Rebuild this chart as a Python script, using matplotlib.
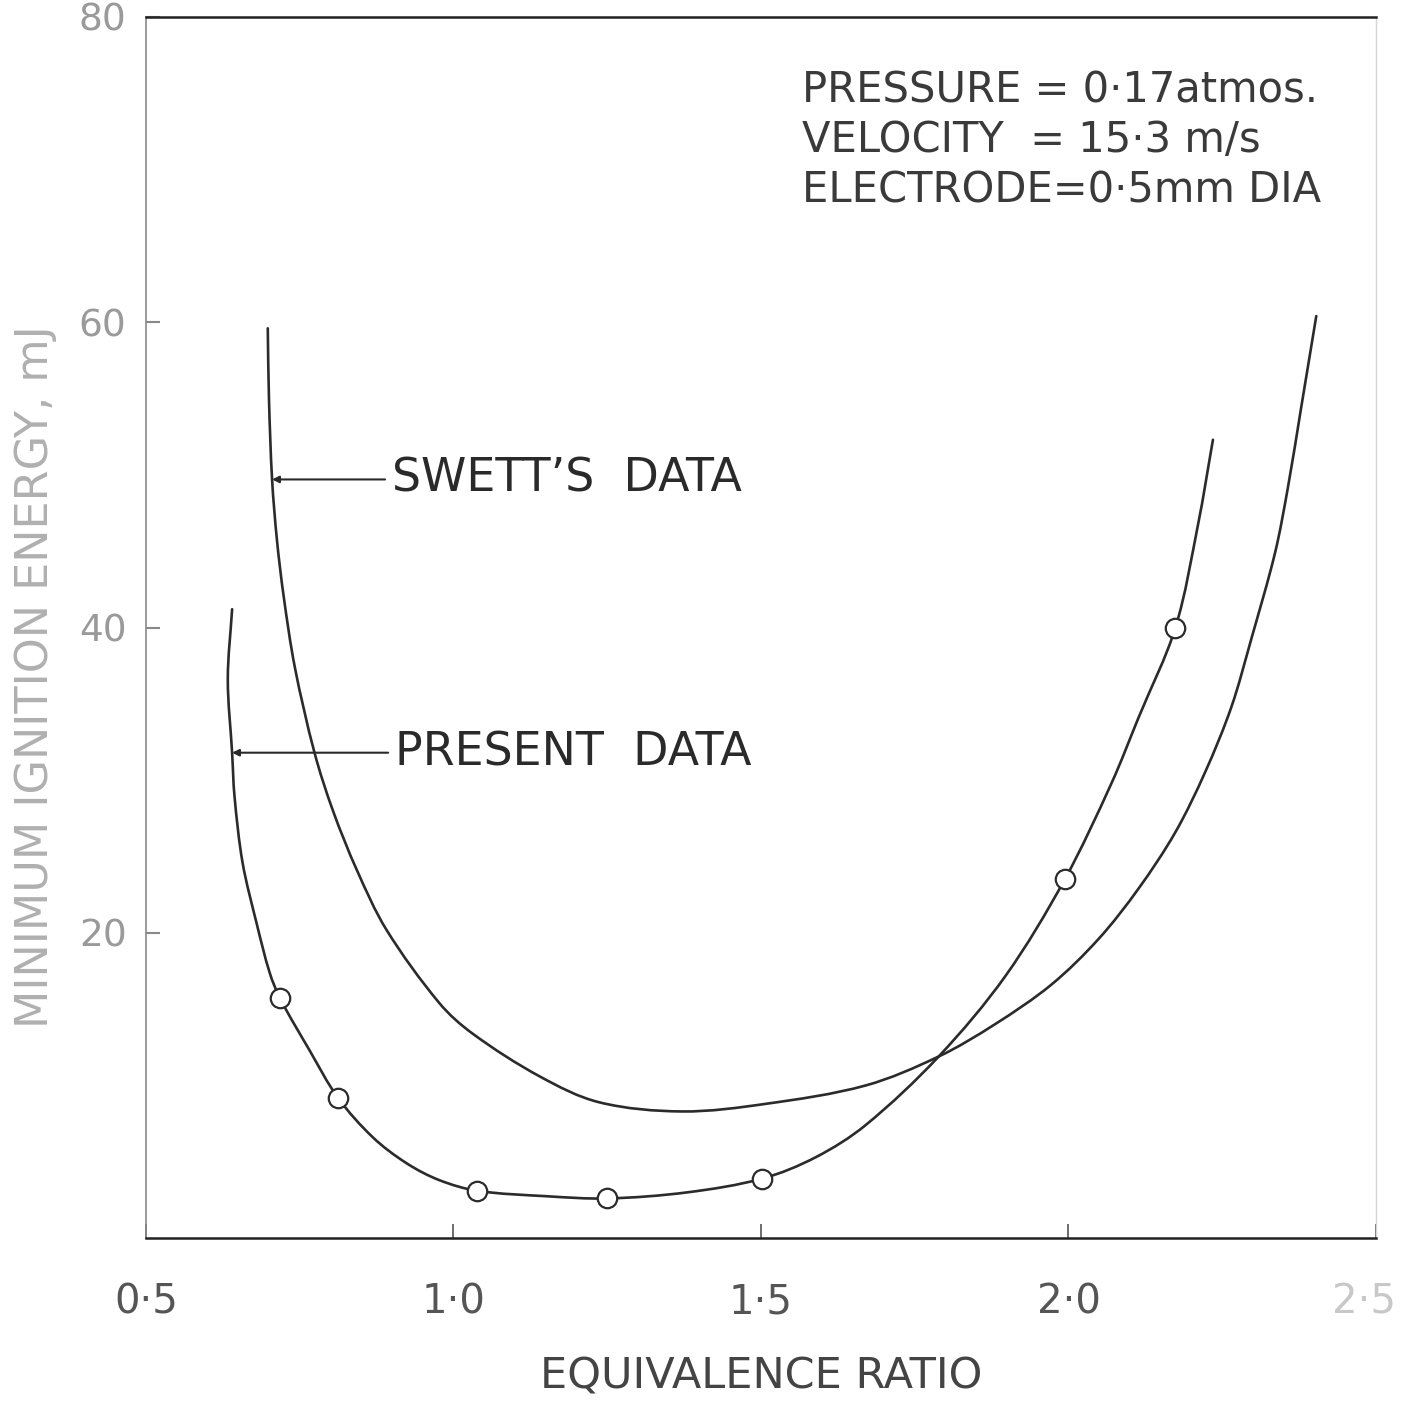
import matplotlib
matplotlib.use("Agg")
import matplotlib.pyplot as plt
import numpy as np
from matplotlib.path import Path
from matplotlib.patches import PathPatch
from matplotlib.transforms import ScaledTranslation

# ---- data ----
present_marker_x = [0.718, 0.812, 1.039, 1.250, 1.502, 1.994, 2.174]
present_marker_y = [15.7, 9.2, 3.1, 2.6, 3.9, 23.5, 40.0]

present_curve_x = [0.640, 0.633, 0.640, 0.644, 0.657, 0.680, 0.701, 0.718, 0.766,
                   0.812, 0.869, 0.924, 0.977, 1.039, 1.150, 1.250, 1.380, 1.502,
                   1.589, 1.670, 1.789, 1.898, 1.994, 2.070, 2.114,
                   2.174, 2.211, 2.235]
present_curve_y = [41.2, 36.6, 31.8, 28.9, 24.6, 20.6, 17.4, 15.7, 12.3,
                   9.2, 6.6, 4.9, 3.8, 3.1, 2.75, 2.6, 3.0, 3.9,
                   5.3, 7.4, 11.9, 17.2, 23.5, 29.8, 34.1,
                   40.0, 46.8, 52.3]

swett_curve_x = [0.698, 0.700, 0.705, 0.713, 0.724, 0.742, 0.774, 0.804, 0.843,
                 0.891, 0.977, 1.031, 1.140, 1.237, 1.372, 1.508, 1.670,
                 1.789, 1.880, 1.972, 2.049, 2.114, 2.174, 2.222, 2.265, 2.297,
                 2.336, 2.357, 2.378, 2.403]
swett_curve_y = [59.6, 54.9, 49.7, 45.7, 42.0, 37.4, 31.8, 28.0, 24.1,
                 20.2, 15.4, 13.4, 10.6, 8.9, 8.3, 8.8, 10.0,
                 11.9, 14.0, 16.6, 19.6, 22.9, 26.6, 30.5, 34.8, 39.2,
                 44.9, 49.2, 54.3, 60.4]

x_ticks = [0.5, 1.0, 1.5, 2.0, 2.5]
x_tick_labels = ["0·5", "1·0", "1·5", "2·0", "2·5"]
y_ticks = [20, 40, 60, 80]
y_tick_labels = ["20", "40", "60", "80"]

conditions = ["PRESSURE = 0·17atmos.", "VELOCITY  = 15·3 m/s", "ELECTRODE=0·5mm DIA"]

plt.rcParams["font.family"] = ["DejaVu Sans"]


def smooth_path(ax, xs, ys):
    """Smooth curve through the read points (chord-weighted cubic Bezier segments,
    built in screen space and mapped back to data space)."""
    p = ax.transData.transform(np.column_stack([xs, ys]).astype(float))
    n = len(p)
    tang = np.zeros_like(p)
    for i in range(n):
        a = p[max(i - 1, 0)]
        b = p[min(i + 1, n - 1)]
        d = np.linalg.norm(b - a)
        tang[i] = (b - a) / d if d > 0 else 0.0
    verts = [p[0]]
    codes = [Path.MOVETO]
    for i in range(n - 1):
        L = np.linalg.norm(p[i + 1] - p[i]) / 3.0
        verts += [p[i] + tang[i] * L, p[i + 1] - tang[i + 1] * L, p[i + 1]]
        codes += [Path.CURVE4] * 3
    verts = ax.transData.inverted().transform(np.array(verts))
    return Path(verts, codes)


fig = plt.figure(figsize=(14.04, 14.07), dpi=100)
ax = fig.add_axes([0.104, 0.120, 0.876, 0.868])
ax.set_xlim(0.5, 2.5)
ax.set_ylim(0, 80)

line_col = "#2b2b2b"
for xs, ys in [(swett_curve_x, swett_curve_y), (present_curve_x, present_curve_y)]:
    ax.add_patch(PathPatch(smooth_path(ax, xs, ys), fill=False, edgecolor=line_col,
                           lw=1.9, capstyle="round", joinstyle="round"))
ax.plot(present_marker_x, present_marker_y, linestyle="none", marker="o", ms=14,
        mfc="white", mec=line_col, mew=1.6, zorder=5)

# spines
ax.spines["top"].set_color("#222222"); ax.spines["top"].set_linewidth(1.8)
ax.spines["bottom"].set_color("#222222"); ax.spines["bottom"].set_linewidth(1.8)
ax.spines["left"].set_color("#8a8a8a"); ax.spines["left"].set_linewidth(1.2)
ax.spines["right"].set_color("#d6d6d6"); ax.spines["right"].set_linewidth(1.0)

ax.set_xticks(x_ticks)
ax.set_xticklabels(x_tick_labels)
ax.set_yticks(y_ticks)
ax.set_yticklabels(y_tick_labels)
ax.tick_params(axis="x", direction="in", length=10, width=1.2, color="#555555",
               labelsize=29, labelcolor="#555555", pad=32)
ax.tick_params(axis="y", direction="in", length=10, width=1.5, color="#888888",
               labelsize=27, labelcolor="#9a9a9a", pad=14)
last = ax.get_xticklabels()[-1]
last.set_color("#c8c8c8")
last.set_transform(last.get_transform() + ScaledTranslation(-12 / 100, 0, fig.dpi_scale_trans))

ax.set_xlabel("EQUIVALENCE RATIO", fontsize=31, color="#444444", labelpad=24)
ax.set_ylabel("MINIMUM IGNITION ENERGY, mJ", fontsize=32, color="#b0b0b0")
ax.yaxis.set_label_coords(-0.072, 0.46)

# conditions text block
for i, t in enumerate(conditions):
    ax.text(0.533, 0.940 - i * 0.041, t, transform=ax.transAxes, fontsize=30,
            color="#3a3a3a", ha="left", va="center")

# curve labels with leader lines
ax.annotate("SWETT’S  DATA", xy=(0.705, 49.7), xytext=(0.900, 49.7),
            fontsize=33, color="#2a2a2a", va="center", ha="left",
            arrowprops=dict(arrowstyle="-|>", color="#2a2a2a", lw=1.5,
                            mutation_scale=10, shrinkA=3, shrinkB=0))
ax.annotate("PRESENT  DATA", xy=(0.640, 31.8), xytext=(0.905, 31.8),
            fontsize=33, color="#2a2a2a", va="center", ha="left",
            arrowprops=dict(arrowstyle="-|>", color="#2a2a2a", lw=1.5,
                            mutation_scale=10, shrinkA=3, shrinkB=0))

fig.savefig("out.png", dpi=100, facecolor="white")
